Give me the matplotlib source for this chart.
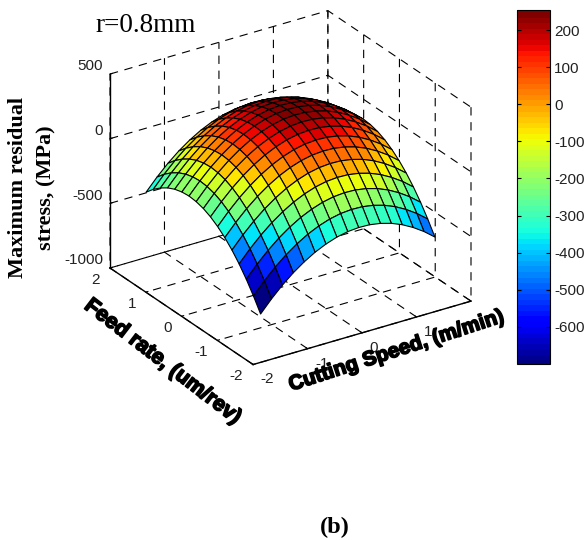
import numpy as np
import matplotlib
matplotlib.use("Agg")
import matplotlib.pyplot as plt
import matplotlib.patheffects as pe
from matplotlib.colors import Normalize
from matplotlib.cm import ScalarMappable
from mpl_toolkits.mplot3d import proj3d

plt.rcParams['font.family'] = ['Liberation Sans', 'DejaVu Sans']
plt.rcParams['axes.unicode_minus'] = False

W, H = 584, 540

cutting_speed = [-1.6,-1.4,-1.2,-1.0,-0.8,-0.6,-0.4,-0.2,0.0,0.2,0.4,0.6,0.8,1.0,1.2,1.4,1.6]
feed_rate = [-1.6,-1.4,-1.2,-1.0,-0.8,-0.6,-0.4,-0.2,0.0,0.2,0.4,0.6,0.8,1.0,1.2,1.4,1.6]
stress = [
 [-733,-641,-559,-488,-428,-378,-339,-310,-292,-285,-288,-302,-326,-361,-407,-463,-530],
 [-631,-539,-457,-386,-326,-276,-237,-208,-190,-183,-186,-200,-224,-259,-305,-361,-428],
 [-539,-447,-365,-294,-234,-184,-145,-116,-98,-91,-94,-108,-132,-167,-213,-269,-336],
 [-458,-366,-284,-213,-153,-103,-64,-35,-17,-10,-13,-27,-51,-86,-132,-188,-255],
 [-388,-296,-214,-143,-83,-33,6,35,53,60,57,43,19,-16,-62,-118,-185],
 [-329,-237,-155,-84,-24,26,65,94,112,119,116,102,78,43,-3,-59,-126],
 [-281,-189,-107,-36,24,74,113,142,160,167,164,150,126,91,45,-11,-78],
 [-243,-151,-69,2,62,112,151,180,198,205,202,188,164,129,83,27,-40],
 [-216,-124,-42,29,89,139,178,207,225,232,229,215,191,156,110,54,-13],
 [-200,-108,-26,45,105,155,194,223,241,248,245,231,207,172,126,70,3],
 [-194,-102,-20,51,111,161,200,229,247,254,251,237,213,178,132,76,9],
 [-200,-108,-26,45,105,155,194,223,241,248,245,231,207,172,126,70,3],
 [-216,-124,-42,29,89,139,178,207,225,232,229,215,191,156,110,54,-13],
 [-243,-151,-69,2,62,112,151,180,198,205,202,188,164,129,83,27,-40],
 [-281,-189,-107,-36,24,74,113,142,160,167,164,150,126,91,45,-11,-78],
 [-329,-237,-155,-84,-24,26,65,94,112,119,116,102,78,43,-3,-59,-126],
 [-388,-296,-214,-143,-83,-33,6,35,53,60,57,43,19,-16,-62,-118,-185],
]
x_ticks = [-2,-1,0,1,2]
x_tick_labels = ['-2','-1','0','1','']
y_ticks = [-2,-1,0,1,2]
z_ticks = [-1000,-500,0,500]
cb_ticks = [-600,-500,-400,-300,-200,-100,0,100,200]
color_min, color_max = -700, 254

fig = plt.figure(figsize=(W/100, H/100), dpi=100, facecolor='white')
ax = fig.add_axes([0.1,0.1,0.8,0.8], projection='3d', proj_type='ortho')
ax.view_init(elev=26.3, azim=-123.3)
ax.set_box_aspect((1,1,0.83))
ax.set_xlim(-2,2,view_margin=0)
ax.set_ylim(-2,2,view_margin=0)
ax.set_zlim(-1000,500,view_margin=0)
ax.patch.set_alpha(0)

XX, YY = np.meshgrid(cutting_speed, feed_rate)
ZZ = np.array(stress, float)
norm = Normalize(color_min, color_max)
cmap = plt.get_cmap('jet', 64)
surf = ax.plot_surface(XX, YY, ZZ, rstride=1, cstride=1, facecolors=cmap(norm(ZZ)),
                       shade=False, antialiased=True)
surf.set_edgecolor('black')
surf.set_linewidth(0.8)

ax.set_xticks(x_ticks); ax.set_yticks(y_ticks); ax.set_zticks(z_ticks)
ax.set_xticklabels(x_tick_labels)
dash = (0,(7.5,6))
for a in (ax.xaxis, ax.yaxis, ax.zaxis):
    a.set_pane_color((1,1,1,0))
    a.pane.set_edgecolor('black')
    a.pane.set_linestyle(dash)
    a.pane.set_linewidth(0.8)
    a.line.set_color('black')
    a.line.set_linewidth(1.0)
    a._axinfo['grid'].update(color='black', linewidth=0.8, linestyle=dash)
    a._axinfo['tick'].update(inward_factor=0.0, outward_factor=0.12)
    a.set_tick_params(labelsize=11, labelcolor='#222222', pad=0)
ax.zaxis.set_ticks_position('upper')
ax.tick_params(axis='x', pad=0)
ax.tick_params(axis='y', pad=-1)
ax.tick_params(axis='z', pad=-5)

target_left = (110, 268)
target_right = (471, 301)
S, cx, cy = 450.0, 290.0, 200.0
def corner(x,y,z):
    px,py,_ = proj3d.proj_transform(x,y,z,ax.get_proj())
    return ax.transData.transform((px,py))
for _ in range(4):
    ax.set_position([(cx-S/2)/W, 1-(cy+S/2)/H, S/W, S/H])
    fig.canvas.draw()
    a0 = corner(-2,2,-1000); a1 = corner(2,-2,-1000)
    S *= (target_right[0]-target_left[0])/(a1[0]-a0[0])
    ax.set_position([(cx-S/2)/W, 1-(cy+S/2)/H, S/W, S/H])
    fig.canvas.draw()
    a0 = corner(-2,2,-1000)
    cx += target_left[0]-a0[0]
    cy += target_left[1]-(H-a0[1])
ax.set_position([(cx-S/2)/W, 1-(cy+S/2)/H, S/W, S/H])

for t in ax.zaxis.get_major_ticks():
    t.label1.set_ha('right'); t.label1.set_va('bottom')
for t in ax.xaxis.get_major_ticks():
    t.label1.set_ha('left'); t.label1.set_va('center')
for t in ax.yaxis.get_major_ticks():
    t.label1.set_ha('right'); t.label1.set_va('center')

cax = fig.add_axes([517/W, 1-364/H, 33/W, 354/H])
cb = fig.colorbar(ScalarMappable(norm=norm, cmap=cmap), cax=cax, ticks=cb_ticks)
cb.solids.set_edgecolor('face')
cb.outline.set_linewidth(0.8)
cax.tick_params(axis='y', direction='in', length=3, width=0.8, labelsize=11,
                labelcolor='#222222', pad=3, left=True, right=True)
cax.set_yticklabels([str(v) for v in cb_ticks])

def T(x,y,s,**k):
    return fig.text(x/W, 1-y/H, s, ha='center', va='center', **k)
stroke = [pe.withStroke(linewidth=1.2, foreground='black')]
T(163,362,'Feed rate, (um/rev)',rotation=-37.5,rotation_mode='anchor',fontsize=15.4,fontweight='bold',path_effects=stroke)
T(396,351,'Cutting Speed, (m/min)',rotation=18,rotation_mode='anchor',fontsize=14.8,fontweight='bold',path_effects=stroke)
T(32,188,'Maximum residual\nstress, (MPa)',rotation=90,fontsize=16,fontweight='bold',
  family=['Liberation Serif'],linespacing=1.55,multialignment='center')
T(146,25,'r=0.8mm',fontsize=19.5,family=['Liberation Serif'])
T(335,527,'(b)',fontsize=17.5,fontweight='bold',family=['Liberation Serif'])

fig.savefig('out.png', dpi=100)
